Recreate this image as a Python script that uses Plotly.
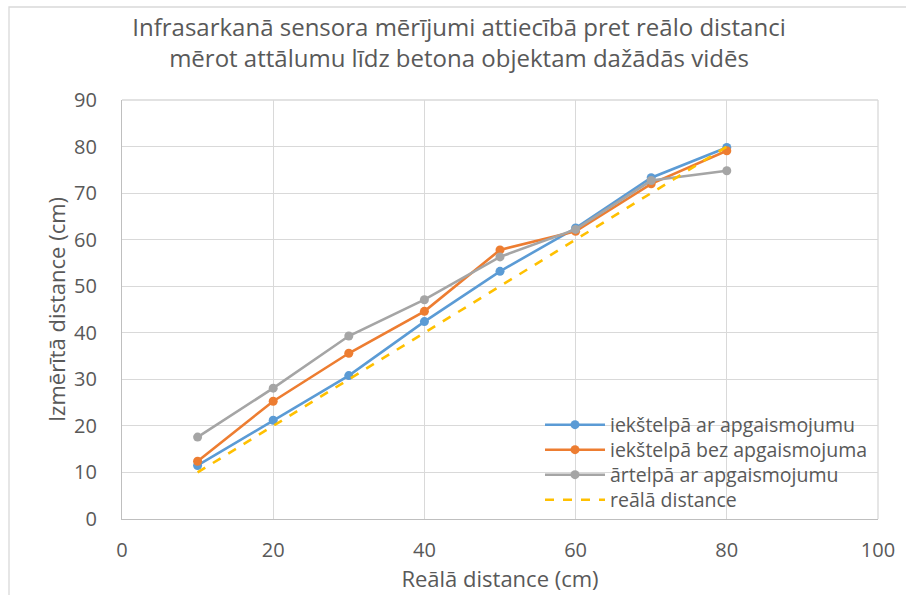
import plotly.graph_objects as go

x_vals = [10, 20, 30, 40, 50, 60, 70, 80]
indoor_light = [11.5, 21.2, 30.8, 42.4, 53.2, 62.5, 73.3, 79.8]
indoor_dark = [12.4, 25.3, 35.6, 44.6, 57.8, 61.8, 72.0, 79.1]
outdoor_light = [17.6, 28.1, 39.3, 47.1, 56.3, 62.2, 72.7, 74.8]
real_dist = [10, 20, 30, 40, 50, 60, 70, 80]

names = ["iekštelpā ar apgaismojumu", "iekštelpā bez apgaismojuma",
         "ārtelpā ar apgaismojumu", "reālā distance"]
title_text = ("Infrasarkanā sensora mērījumi attiecībā pret reālo distanci<br>"
              "mērot attālumu līdz betona objektam dažādās vidēs")
x_title = "Reālā distance (cm)"
y_title = "Izmērītā distance (cm)"

FONT = "Open Sans"
TXT = "#595959"

PL, PR, PT, PB = 122, 878, 100, 519
W, H = 906, 595
pw, ph = PR - PL, PB - PT

def px(xp):
    return (xp - PL) / pw

def py(yp):
    return (PB - yp) / ph

legend_ids = ["legend", "legend2", "legend3", "legend4"]
legend_rows = [425, 450, 475, 500]

fig = go.Figure()
series = [(indoor_light, "#5B9BD5"), (indoor_dark, "#ED7D31"), (outdoor_light, "#A5A5A5")]
for i, ((vals, col), nm) in enumerate(zip(series, names[:3])):
    fig.add_trace(go.Scatter(x=x_vals, y=vals, name=nm, mode="lines+markers",
                             line=dict(color=col, width=2.6),
                             marker=dict(color=col, size=9, symbol="circle"),
                             legend=legend_ids[i]))
fig.add_trace(go.Scatter(x=x_vals, y=real_dist, name=names[3], mode="lines",
                         line=dict(color="#FFC000", width=2.6, dash="dash"),
                         legend=legend_ids[3]))

leg_common = dict(xanchor="left", yanchor="middle", bgcolor="rgba(0,0,0,0)",
                  font=dict(size=19.5, color=TXT, family=FONT), itemwidth=60,
                  borderwidth=0)
legends = {}
for lid, ry in zip(legend_ids, legend_rows):
    legends[lid] = dict(x=px(540), y=py(ry), **leg_common)

fig.update_layout(
    width=W, height=H,
    margin=dict(l=PL, r=W - PR, t=PT, b=H - PB, autoexpand=False),
    paper_bgcolor="white", plot_bgcolor="white",
    font=dict(family=FONT, color=TXT, size=20),
    title=dict(text=title_text, x=459 / W, xref="container", xanchor="center",
               y=1 - 36 / H, yref="container", yanchor="middle",
               font=dict(family=FONT, size=24, color=TXT)),
    xaxis=dict(range=[0, 100], dtick=20, tick0=0, automargin=False,
               showgrid=True, gridcolor="#D9D9D9", gridwidth=1.3,
               showline=True, linecolor="#BFBFBF", linewidth=1.3,
               zeroline=False, ticks="", ticklabelstandoff=13,
               tickfont=dict(size=20, color=TXT),
               title=dict(text=x_title, standoff=5, font=dict(size=22, color=TXT))),
    yaxis=dict(range=[0, 90], dtick=10, tick0=0, automargin=False,
               showgrid=True, gridcolor="#D9D9D9", gridwidth=1.3,
               showline=True, linecolor="#BFBFBF", linewidth=1.3,
               zeroline=False, ticks="", ticklabelstandoff=20,
               tickfont=dict(size=20, color=TXT),
               title=dict(text=y_title, standoff=2, font=dict(size=22, color=TXT))),
    showlegend=True,
    **legends,
)

# outer chart border
fig.add_shape(type="rect", xref="paper", yref="paper",
              x0=px(9), x1=px(912), y0=py(602), y1=py(7),
              line=dict(color="#D9D9D9", width=1.3), fillcolor="rgba(0,0,0,0)",
              layer="below")
# right and top plot frame lines (gridlines at max)
fig.add_shape(type="line", xref="paper", yref="paper", x0=1, x1=1, y0=0, y1=1,
              line=dict(color="#D9D9D9", width=1.3), layer="below")
fig.add_shape(type="line", xref="paper", yref="paper", x0=0, x1=1, y0=1, y1=1,
              line=dict(color="#D9D9D9", width=1.3), layer="below")

fig.write_html("out.html")
